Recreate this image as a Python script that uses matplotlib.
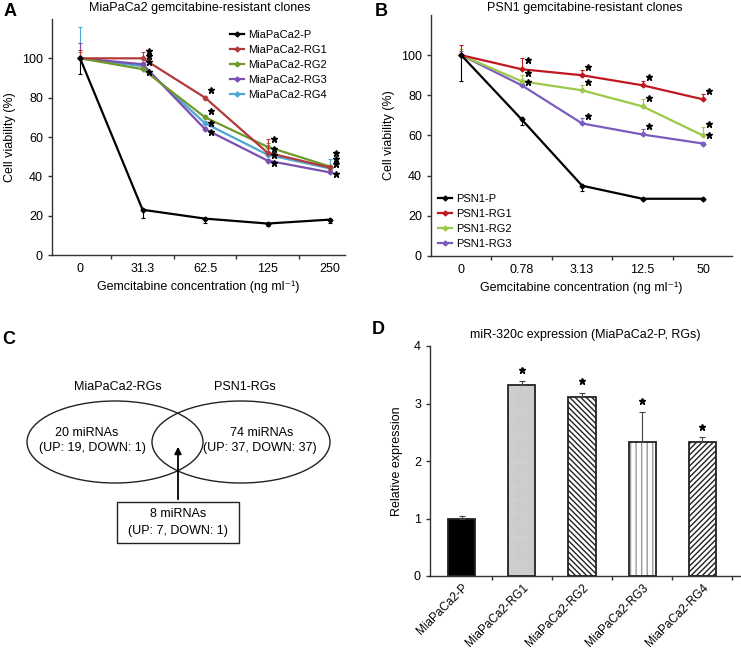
import matplotlib
matplotlib.use('Agg')
import matplotlib.pyplot as plt
import matplotlib.patches as patches
import numpy as np

plt.rcParams['font.family'] = ['Liberation Sans', 'DejaVu Sans']
plt.rcParams['hatch.linewidth'] = 1.0

# Panel A data
conc_a = ['0', '31.3', '62.5', '125', '250']
names_a = ['MiaPaCa2-P', 'MiaPaCa2-RG1', 'MiaPaCa2-RG2', 'MiaPaCa2-RG3', 'MiaPaCa2-RG4']
vals_a = [
    [100, 23, 18.5, 16, 18],
    [100, 100, 80, 52, 44.5],
    [100, 94.5, 70, 55, 45],
    [100, 97, 64, 48, 42],
    [100, 96, 67, 51, 44],
]
err_lo_a = [
    [8, 4, 2, 1.5, 1.5],
    [0, 0, 0, 0, 0],
    [0, 0, 0, 0, 0],
    [0, 0, 0, 0, 0],
    [0, 0, 0, 0, 0],
]
err_hi_a = [
    [0, 0, 0, 0, 0],
    [4, 3, 1, 7, 1],
    [3, 1, 1, 2, 1],
    [8, 1, 1, 1, 1],
    [16, 1, 1, 2, 5],
]
stars_a = [
    [103.5, 101, 98, 93],
    [84, 73, 67, 62.5],
    [59, 54, 51, 47],
    [52, 49, 46.5, 41],
]
colors_a = ['black', '#b23a3a', '#6f9a2a', '#7a4fb0', '#4da6d6']

# Panel B data
conc_b = ['0', '0.78', '3.13', '12.5', '50']
names_b = ['PSN1-P', 'PSN1-RG1', 'PSN1-RG2', 'PSN1-RG3']
vals_b = [
    [100, 68, 35, 28.5, 28.5],
    [100, 93, 90, 85, 78],
    [100, 87, 82.5, 74.5, 60],
    [100, 85, 66, 60.5, 56],
]
err_lo_b = [
    [13, 3, 2.5, 0.5, 0.5],
    [0, 0, 0, 0, 0],
    [0, 0, 0, 0, 0],
    [0, 0, 0, 0, 0],
]
err_hi_b = [
    [0, 0, 0, 0, 0],
    [5, 5.5, 2.5, 2, 2.5],
    [3, 3, 2.5, 3.5, 4],
    [2, 1, 2.5, 2.5, 1],
]
stars_b = [
    [97.5, 91, 86.5],
    [94, 86.5, 69.5],
    [89, 78.5, 64.5],
    [82, 65.5, 60],
]
colors_b = ['black', '#c0181e', '#9cc84a', '#7d5cc0']

# Panel D data
groups_d = ['MiaPaCa2-P', 'MiaPaCa2-RG1', 'MiaPaCa2-RG2', 'MiaPaCa2-RG3', 'MiaPaCa2-RG4']
expr_d = [1.0, 3.32, 3.12, 2.33, 2.33]
err_d = [0.05, 0.08, 0.07, 0.53, 0.08]
stars_d = [None, 3.58, 3.4, 3.05, 2.6]
hatches_d = [None, '.........', '\\\\\\\\\\\\', '|||', '//////']
hatch_col_d = ['black', '#b0b0b0', '#222222', '#9a9a9a', '#222222']
faces_d = ['black', '#ececec', 'white', 'white', 'white']

W, H = 741, 652
FS = 9
fig = plt.figure(figsize=(W / 100, H / 100), dpi=100)


def px_axes(left, top, right, bottom):
    return fig.add_axes([left / W, 1 - bottom / H, (right - left) / W, (bottom - top) / H])


def style_axes(ax):
    for key in ['top', 'right']:
        ax.spines[key].set_visible(False)
    for key in ['left', 'bottom']:
        ax.spines[key].set_linewidth(1.0)
        ax.spines[key].set_color('#333333')
    ax.tick_params(axis='both', labelsize=FS, width=1.0, length=3, color='#333333', direction='out')


def line_panel(ax, cats, names, vals, lo, hi, stars, colors, xlim, legend_loc, legend_anchor):
    pos = np.arange(1, len(cats) + 1)
    handles = []
    for i in range(len(names)):
        z = 3 + (len(names) - i) * 0.1
        ax.errorbar(pos, vals[i], yerr=[lo[i], hi[i]], fmt='none', ecolor=colors[i],
                    elinewidth=0.8, capsize=1.5, capthick=0.8, zorder=z)
        line, = ax.plot(pos, vals[i], color=colors[i], lw=1.6, marker='D', markersize=2.5,
                        label=names[i], zorder=z)
        handles.append(line)
    for j, ys in enumerate(stars):
        ax.plot([pos[j + 1] + 0.1] * len(ys), ys, linestyle='none', marker='*',
                color='black', markersize=5, zorder=6)
    ax.set_xlim(*xlim)
    ax.set_ylim(0, 120)
    ax.set_yticks([0, 20, 40, 60, 80, 100])
    ax.set_xticks(pos)
    ax.set_xticklabels(cats)
    ax.set_xticks(pos[:-1] + 0.5, minor=True)
    style_axes(ax)
    ax.tick_params(axis='x', which='major', length=0, pad=6)
    ax.tick_params(axis='x', which='minor', length=3, width=1.0, color='#333333')
    ax.set_ylabel('Cell viability (%)', fontsize=FS, labelpad=4)
    ax.set_xlabel('Gemcitabine concentration (ng ml⁻¹)', fontsize=FS, labelpad=4)
    ax.legend(handles=handles, loc=legend_loc, bbox_to_anchor=legend_anchor, frameon=False,
              fontsize=8, handlelength=1.3, handletextpad=0.35, labelspacing=0.45,
              borderaxespad=0.2)


# Panel A
ax_a = px_axes(52, 19, 345, 255)
line_panel(ax_a, conc_a, names_a, vals_a, err_lo_a, err_hi_a, stars_a, colors_a,
           (0.55, 5.24), 'upper right', (0.96, 0.98))
fig.text(200 / W, 1 - 8 / H, 'MiaPaCa2 gemcitabine-resistant clones', fontsize=FS,
         ha='center', va='center')

# Panel B
ax_b = px_axes(431, 15, 732, 256)
line_panel(ax_b, conc_b, names_b, vals_b, err_lo_b, err_hi_b, stars_b, colors_b,
           (0.5, 5.48), 'lower left', (0.0, 0.0))
fig.text(585 / W, 1 - 8 / H, 'PSN1 gemcitabine-resistant clones', fontsize=FS,
         ha='center', va='center')

# Panel C: Venn diagram, drawn in pixel-like coordinates
ax_c = px_axes(0, 330, 370, 560)
ax_c.set_xlim(0, 370)
ax_c.set_ylim(560, 330)
ax_c.axis('off')
ax_c.add_patch(patches.Ellipse((115, 442), 176, 82, fill=False, lw=1.0, ec='#222222'))
ax_c.add_patch(patches.Ellipse((241, 442), 178, 82, fill=False, lw=1.0, ec='#222222'))
ax_c.text(118, 387, 'MiaPaCa2-RGs', ha='center', va='center', fontsize=FS)
ax_c.text(245, 387, 'PSN1-RGs', ha='center', va='center', fontsize=FS)
ax_c.text(87, 433, '20 miRNAs', ha='center', va='center', fontsize=FS)
ax_c.text(92, 448, '(UP: 19, DOWN: 1)', ha='center', va='center', fontsize=FS)
ax_c.text(262, 433, '74 miRNAs', ha='center', va='center', fontsize=FS)
ax_c.text(260, 448, '(UP: 37, DOWN: 37)', ha='center', va='center', fontsize=FS)
ax_c.annotate('', xy=(178, 444), xytext=(178, 502),
              arrowprops=dict(arrowstyle='-|>', color='black', lw=1.3, mutation_scale=10))
ax_c.add_patch(patches.Rectangle((117, 502), 122, 41, fill=False, lw=1.0, ec='#222222'))
ax_c.text(178, 514, '8 miRNAs', ha='center', va='center', fontsize=FS)
ax_c.text(178, 531, '(UP: 7, DOWN: 1)', ha='center', va='center', fontsize=FS)

# Panel D
ax_d = px_axes(430, 346, 740, 576)
pos_d = np.arange(1, len(groups_d) + 1)
for i in range(len(groups_d)):
    # hatch layer, then outline on top
    ax_d.bar(pos_d[i], expr_d[i], width=0.45, color=faces_d[i], edgecolor=hatch_col_d[i],
             linewidth=0, hatch=hatches_d[i], zorder=2)
    ax_d.bar(pos_d[i], expr_d[i], width=0.45, fill=False, edgecolor='#222222',
             linewidth=1.3, zorder=2.5)
    ax_d.errorbar(pos_d[i], expr_d[i], yerr=[[0], [err_d[i]]], color='#444444',
                  elinewidth=0.8, capsize=2, capthick=0.8, zorder=3)
    if stars_d[i] is not None:
        ax_d.plot(pos_d[i], stars_d[i], marker='*', color='black', markersize=5, linestyle='none')
ax_d.set_xlim(0.47, 5.63)
ax_d.set_ylim(0, 4)
ax_d.set_yticks([0, 1, 2, 3, 4])
ax_d.set_xticks(pos_d)
ax_d.set_xticklabels(groups_d, rotation=45, ha='right', rotation_mode='anchor')
ax_d.set_xticks(pos_d + 0.5, minor=True)
style_axes(ax_d)
ax_d.tick_params(axis='x', which='major', length=0, pad=4, labelsize=8.5)
ax_d.tick_params(axis='x', which='minor', length=3, width=1.0, color='#333333')
ax_d.set_ylabel('Relative expression', fontsize=FS, labelpad=8)
ax_d.set_title('miR-320c expression (MiaPaCa2-P, RGs)', fontsize=FS, pad=6)

# panel letters
for label, x, y in [('A', 4, 12), ('B', 375, 12), ('C', 2, 340), ('D', 372, 330)]:
    fig.text(x / W, 1 - y / H, label, fontsize=13, fontweight='bold', va='center', ha='left')

plt.savefig('out.png', dpi=100)
